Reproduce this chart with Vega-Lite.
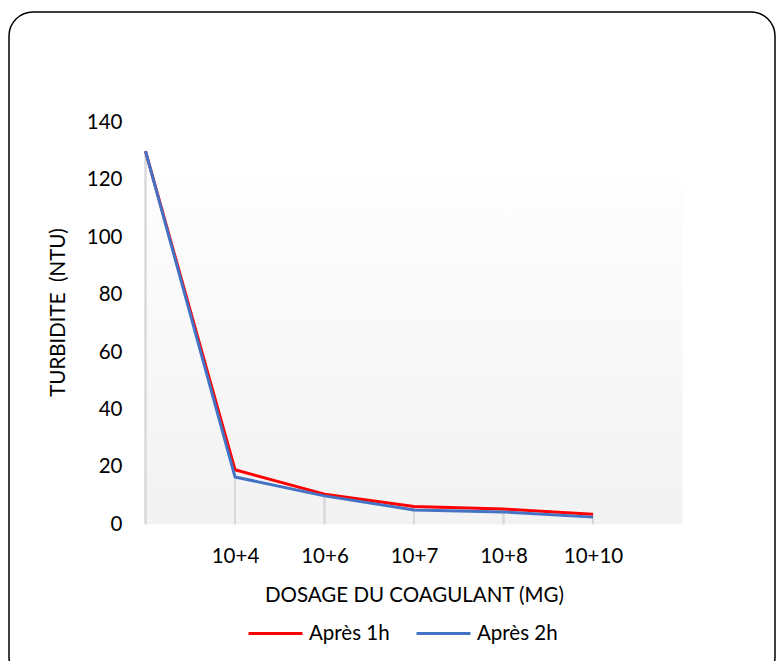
{
  "$schema": "https://vega.github.io/schema/vega-lite/v6.json",
  "autosize": {"type": "none"},
  "padding": {"left": 9, "top": 12, "right": 1, "bottom": -20},
  "width": 766,
  "height": 669,
  "background": "white",
  "config": {
    "font": "Lato",
    "view": {"stroke": "black", "strokeWidth": 1.5, "cornerRadius": 24, "fill": "white"}
  },
  "data": {
    "values": [
      {"dosage": "", "serie": "Après 1h", "turbidite": 130},
      {"dosage": "10+4", "serie": "Après 1h", "turbidite": 19},
      {"dosage": "10+6", "serie": "Après 1h", "turbidite": 10.5},
      {"dosage": "10+7", "serie": "Après 1h", "turbidite": 6.2},
      {"dosage": "10+8", "serie": "Après 1h", "turbidite": 5.3},
      {"dosage": "10+10", "serie": "Après 1h", "turbidite": 3.5},
      {"dosage": "", "serie": "Après 2h", "turbidite": 130},
      {"dosage": "10+4", "serie": "Après 2h", "turbidite": 16.5},
      {"dosage": "10+6", "serie": "Après 2h", "turbidite": 9.9},
      {"dosage": "10+7", "serie": "Après 2h", "turbidite": 5},
      {"dosage": "10+8", "serie": "Après 2h", "turbidite": 4.3},
      {"dosage": "10+10", "serie": "Après 2h", "turbidite": 2.5}
    ]
  },
  "encoding": {
    "x": {
      "field": "dosage",
      "type": "ordinal",
      "sort": ["", "10+4", "10+6", "10+7", "10+8", "10+10", " "],
      "scale": {
        "type": "point",
        "domain": ["", "10+4", "10+6", "10+7", "10+8", "10+10", " "],
        "range": [136.5, 673.5],
        "padding": 0
      },
      "axis": {
        "title": "DOSAGE DU COAGULANT (MG)",
        "offset": -156.7,
        "domain": false,
        "ticks": false,
        "tickSize": 0,
        "grid": false,
        "labelAngle": 0,
        "labelFontSize": 20.5,
        "labelColor": "black",
        "labelPadding": 22,
        "titleFontSize": 20.5,
        "titleFontWeight": "normal",
        "titleColor": "black",
        "titlePadding": 19
      }
    },
    "y": {
      "field": "turbidite",
      "type": "quantitative",
      "scale": {"domain": [0, 140], "range": [512.3, 110.5], "nice": false},
      "axis": {
        "title": "TURBIDITE \u00a0(NTU)",
        "offset": -136.5,
        "values": [0, 20, 40, 60, 80, 100, 120, 140],
        "domain": false,
        "ticks": false,
        "tickSize": 0,
        "grid": false,
        "labelFontSize": 20.5,
        "labelColor": "black",
        "labelPadding": 23.5,
        "titleFontSize": 20.5,
        "titleFontWeight": "normal",
        "titleColor": "black",
        "titleAngle": -90,
        "titleAlign": "center",
        "titleBaseline": "middle",
        "titleX": -87.5,
        "titleY": 300
      }
    }
  },
  "layer": [
    {
      "transform": [{"filter": "datum.dosage === '' && datum.serie === 'Après 1h'"}],
      "mark": {
        "type": "rect",
        "fill": {
          "gradient": "linear",
          "x1": 0, "y1": 0, "x2": 0, "y2": 1,
          "stops": [
            {"offset": 0, "color": "#fefefe"},
            {"offset": 1, "color": "#f2f2f2"}
          ]
        }
      },
      "encoding": {
        "x2": {"datum": " "},
        "y": {"datum": 0, "type": "quantitative"},
        "y2": {"datum": 122}
      }
    },
    {
      "mark": {"type": "rule", "color": "#d9d9d9", "strokeWidth": 2},
      "encoding": {
        "y2": {"datum": 0}
      }
    },
    {
      "mark": {"type": "line", "strokeWidth": 3, "strokeJoin": "round"},
      "encoding": {
        "color": {
          "field": "serie",
          "type": "nominal",
          "scale": {"domain": ["Après 1h", "Après 2h"], "range": ["#ff0000", "#4472c4"]},
          "legend": {
            "title": null,
            "orient": "none",
            "direction": "horizontal",
            "legendX": 238,
            "legendY": 593,
            "symbolType": "stroke",
            "symbolSize": 2916,
            "symbolStrokeWidth": 3,
            "labelFontSize": 20.5,
            "labelColor": "black",
            "labelOffset": 5,
            "columnPadding": 20
          }
        }
      }
    }
  ]
}
